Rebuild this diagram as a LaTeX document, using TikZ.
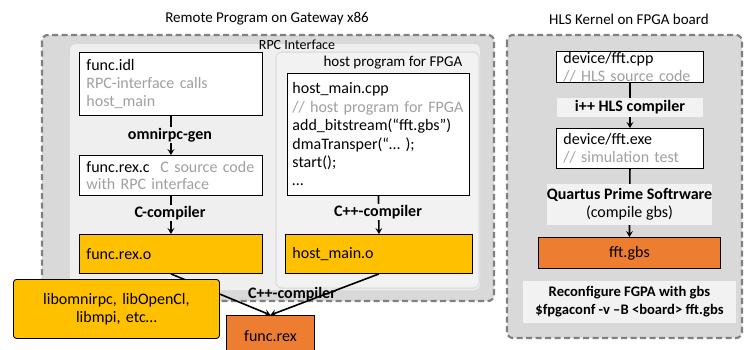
\documentclass[tikz,border=0pt]{standalone}
\usepackage{fontspec}
\setmainfont{Carlito}
\usetikzlibrary{arrows.meta}
\definecolor{dgray}{HTML}{D9D9D9}
\definecolor{lgray}{HTML}{EFEFEF}
\definecolor{lgray2}{HTML}{F2F2F2}
\definecolor{sepc}{HTML}{E0E0E0}
\definecolor{dashc}{HTML}{808080}
\definecolor{txtg}{HTML}{A0A0A0}
\definecolor{gold}{HTML}{FFC000}
\definecolor{orng}{HTML}{ED7D31}
\newcommand{\fs}{\fontsize{16}{18.4}\selectfont}
\newcommand{\ft}{\fontsize{15}{18}\selectfont}
\newcommand{\fr}{\fontsize{14.6}{18}\selectfont}
\newcommand{\gt}[1]{\textcolor{txtg}{#1}}
\tikzset{
  dashbox/.style={draw=dashc, fill=dgray, line width=2.2pt, dash pattern=on 6pt off 3.5pt, rounded corners=6pt},
  region/.style={fill=lgray, rounded corners=6pt},
  box/.style={draw=black, line width=0.9pt, fill=white, anchor=north west, inner xsep=7pt, inner ysep=1pt, align=left, font=\fs},
  gbox/.style={box, fill=gold},
  obox/.style={box, fill=orng, align=center},
  arr/.style={line width=1.6pt, -{Stealth[length=6pt,width=7pt,inset=2.5pt]}},
  lab/.style={font=\fs\bfseries, inner sep=1pt},
  title/.style={font=\ft, inner sep=0pt},
  hlab/.style={font=\fs\bfseries, fill=lgray2, inner sep=0pt, align=center},
}
\begin{document}
\begin{tikzpicture}[x=1pt,y=-1pt]
\useasboundingbox (0,0) rectangle (744,349);
% titles
\node[title] (t1) at (267,19) {Remote Program on Gateway x86};
\node[title] (t2) at (629,19) {HLS Kernel on FPGA board};
% outer regions
\draw[dashbox] (42,35) rectangle (494,301);
\draw[dashbox] (507,35) rectangle (742,338);
\fill[region] (70,44) rectangle (480,290);
\draw[fill=lgray2, draw=sepc, line width=1.5pt, rounded corners=6pt] (276,52) rectangle (479,288);
\node[title, font=\fontsize{14}{17}\selectfont] (rpc) at (297,45) {RPC Interface};
\node[title] (hp) at (393,63) {host program for FPGA};
% left column
\node[box, minimum width=183pt, minimum height=63pt, text width=169pt] (idl) at (79,52)
  {func.idl\\ \gt{RPC-interface calls}\\ \gt{host\_main}};
\node[box, minimum width=183pt, minimum height=40pt, text width=169pt] (rexc) at (79,155)
  {func.rex.c\ \ \gt{C source code}\\[-1pt] \gt{with RPC interface}};
\node[gbox, minimum width=183pt, minimum height=39pt, text width=169pt] (rexo) at (79,234)
  {func.rex.o};
% host column
\node[box, inner xsep=5pt, minimum width=182pt, minimum height=122pt, text width=172pt] (hmc) at (287,73)
  {host\_main.cpp\\ \gt{// host program for FPGA}\\ add\_bitstream(“fft.gbs”)\\ dmaTransper(“… );\\ start();\\ …};
\node[gbox, minimum width=187pt, minimum height=39pt, text width=173pt] (hmo) at (285,234)
  {host\_main.o};
% connectors left
\draw[arr] (idl.south) -- (rexc.north);
\draw[arr] (rexc.south) -- (rexo.north);
\draw[arr] (hmc.south) -- (hmo.north);
\node[lab, fill=lgray] (l1) at (170,135) {omnirpc-gen};
\node[lab, fill=lgray] (l2) at (170,213) {C-compiler};
\node[lab, fill=lgray2] (l3) at (378,212) {C++-compiler};
% final link
\node[obox, minimum width=88pt, minimum height=42pt, text width=74pt] (rex) at (226,315) {func.rex};
\draw[arr] (rexo.south) -- (rex.north);
\draw[arr] (hmo.south) -- (rex.north);
\node[lab] (l4) at (292,294) {C++-compiler};
\node[gbox, align=center, rounded corners=3pt, minimum width=206pt, minimum height=59pt, text width=192pt] (libs) at (13,279)
  {libomnirpc, libOpenCl,\\ libmpi, etc…};
% right column
\node[box, minimum width=147pt, minimum height=31pt, text width=133pt, inner ysep=0pt] (fcpp) at (556,51)
  {device/fft.cpp\\[-0.5pt] \gt{// HLS source code}};
\node[box, minimum width=147pt, minimum height=40pt, text width=133pt] (fexe) at (556,128)
  {device/fft.exe\\ \gt{// simulation test}};
\node[obox, minimum width=182pt, minimum height=31pt, text width=168pt] (gbs) at (538,237) {fft.gbs};
\draw[arr] (fcpp.south) -- (fexe.north);
\draw[arr] (fexe.south) -- (gbs.north);
\node[hlab, minimum width=146pt, minimum height=19pt] (h1) at (630,107) {i++ HLS compiler};
\node[hlab, minimum width=161pt, minimum height=41pt] (h2) at (629.5,204.5) {Quartus Prime Softrware\\ \mdseries (compile gbs)};
\node[hlab, font=\fr\bfseries, minimum width=213pt, minimum height=42pt] (h3) at (629.5,302) {Reconfigure FGPA with gbs\\ \$fpgaconf -v –B <board> fft.gbs};
\end{tikzpicture}
\end{document}
